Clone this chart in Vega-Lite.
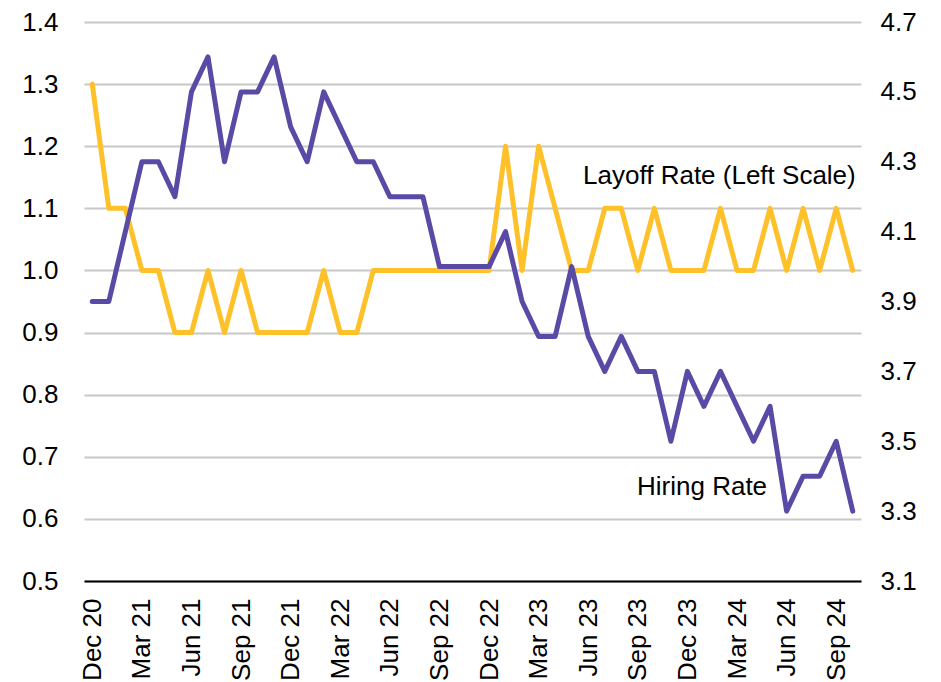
{
  "$schema": "https://vega.github.io/schema/vega-lite/v6.json",
  "width": 777,
  "height": 559,
  "autosize": {"type": "none"},
  "padding": {"left": 84, "top": 22, "right": 80, "bottom": 101},
  "background": "white",
  "config": {
    "view": {"stroke": null},
    "font": "Liberation Sans",
    "axis": {"labelFont": "Liberation Sans", "labelFontSize": 26, "labelColor": "black", "ticks": false, "domain": false, "title": null}
  },
  "data": {"values": [
    {"m": "Dec 20", "layoff": 1.3, "hiring": 3.9},
    {"m": "Jan 21", "layoff": 1.1, "hiring": 3.9},
    {"m": "Feb 21", "layoff": 1.1, "hiring": 4.1},
    {"m": "Mar 21", "layoff": 1.0, "hiring": 4.3},
    {"m": "Apr 21", "layoff": 1.0, "hiring": 4.3},
    {"m": "May 21", "layoff": 0.9, "hiring": 4.2},
    {"m": "Jun 21", "layoff": 0.9, "hiring": 4.5},
    {"m": "Jul 21", "layoff": 1.0, "hiring": 4.6},
    {"m": "Aug 21", "layoff": 0.9, "hiring": 4.3},
    {"m": "Sep 21", "layoff": 1.0, "hiring": 4.5},
    {"m": "Oct 21", "layoff": 0.9, "hiring": 4.5},
    {"m": "Nov 21", "layoff": 0.9, "hiring": 4.6},
    {"m": "Dec 21", "layoff": 0.9, "hiring": 4.4},
    {"m": "Jan 22", "layoff": 0.9, "hiring": 4.3},
    {"m": "Feb 22", "layoff": 1.0, "hiring": 4.5},
    {"m": "Mar 22", "layoff": 0.9, "hiring": 4.4},
    {"m": "Apr 22", "layoff": 0.9, "hiring": 4.3},
    {"m": "May 22", "layoff": 1.0, "hiring": 4.3},
    {"m": "Jun 22", "layoff": 1.0, "hiring": 4.2},
    {"m": "Jul 22", "layoff": 1.0, "hiring": 4.2},
    {"m": "Aug 22", "layoff": 1.0, "hiring": 4.2},
    {"m": "Sep 22", "layoff": 1.0, "hiring": 4.0},
    {"m": "Oct 22", "layoff": 1.0, "hiring": 4.0},
    {"m": "Nov 22", "layoff": 1.0, "hiring": 4.0},
    {"m": "Dec 22", "layoff": 1.0, "hiring": 4.0},
    {"m": "Jan 23", "layoff": 1.2, "hiring": 4.1},
    {"m": "Feb 23", "layoff": 1.0, "hiring": 3.9},
    {"m": "Mar 23", "layoff": 1.2, "hiring": 3.8},
    {"m": "Apr 23", "layoff": 1.1, "hiring": 3.8},
    {"m": "May 23", "layoff": 1.0, "hiring": 4.0},
    {"m": "Jun 23", "layoff": 1.0, "hiring": 3.8},
    {"m": "Jul 23", "layoff": 1.1, "hiring": 3.7},
    {"m": "Aug 23", "layoff": 1.1, "hiring": 3.8},
    {"m": "Sep 23", "layoff": 1.0, "hiring": 3.7},
    {"m": "Oct 23", "layoff": 1.1, "hiring": 3.7},
    {"m": "Nov 23", "layoff": 1.0, "hiring": 3.5},
    {"m": "Dec 23", "layoff": 1.0, "hiring": 3.7},
    {"m": "Jan 24", "layoff": 1.0, "hiring": 3.6},
    {"m": "Feb 24", "layoff": 1.1, "hiring": 3.7},
    {"m": "Mar 24", "layoff": 1.0, "hiring": 3.6},
    {"m": "Apr 24", "layoff": 1.0, "hiring": 3.5},
    {"m": "May 24", "layoff": 1.1, "hiring": 3.6},
    {"m": "Jun 24", "layoff": 1.0, "hiring": 3.3},
    {"m": "Jul 24", "layoff": 1.1, "hiring": 3.4},
    {"m": "Aug 24", "layoff": 1.0, "hiring": 3.4},
    {"m": "Sep 24", "layoff": 1.1, "hiring": 3.5},
    {"m": "Oct 24", "layoff": 1.0, "hiring": 3.3}
  ]},
  "encoding": {
    "x": {
      "field": "m", "type": "ordinal", "sort": null,
      "scale": {"type": "point", "padding": 0.5},
      "axis": {
        "labelAngle": 270, "labelAlign": "right", "labelBaseline": "middle",
        "labelPadding": 17, "labelOverlap": false, "grid": false,
        "domain": true, "domainColor": "black", "domainWidth": 2,
        "labelExpr": "indexof(['Mar','Jun','Sep','Dec'], slice(datum.label,0,3)) >= 0 ? datum.label : ''"
      }
    }
  },
  "layer": [
    {
      "layer": [
        {
          "mark": {"type": "line", "color": "#FFC12A", "strokeWidth": 5, "strokeCap": "round", "strokeJoin": "round"},
          "encoding": {
            "y": {
              "field": "layoff", "type": "quantitative",
              "scale": {"domain": [0.5, 1.4], "nice": false, "zero": false},
              "axis": {"orient": "left", "values": [0.5, 0.6, 0.7, 0.8, 0.9, 1.0, 1.1, 1.2, 1.3, 1.4], "format": ".1f", "grid": true, "gridColor": "#C8C8C8", "gridWidth": 2, "labelPadding": 26}
            }
          }
        },
        {
          "data": {"values": [
            {"m": "Oct 24", "v": 1.139, "t": "Layoff Rate (Left Scale)", "dx": 3},
            {"m": "May 24", "v": 0.638, "t": "Hiring Rate", "dx": -4}
          ]},
          "transform": [{"filter": "datum.dx > 0"}],
          "mark": {"type": "text", "align": "right", "baseline": "alphabetic", "dx": 3, "fontSize": 26, "font": "Liberation Sans", "color": "black"},
          "encoding": {"y": {"field": "v", "type": "quantitative"}, "text": {"field": "t"}}
        },
        {
          "data": {"values": [
            {"m": "Oct 24", "v": 1.139, "t": "Layoff Rate (Left Scale)", "dx": 3},
            {"m": "May 24", "v": 0.638, "t": "Hiring Rate", "dx": -4}
          ]},
          "transform": [{"filter": "datum.dx < 0"}],
          "mark": {"type": "text", "align": "right", "baseline": "alphabetic", "dx": -3, "fontSize": 26, "font": "Liberation Sans", "color": "black"},
          "encoding": {"y": {"field": "v", "type": "quantitative"}, "text": {"field": "t"}}
        }
      ]
    },
    {
      "mark": {"type": "line", "color": "#5A4AA6", "strokeWidth": 5, "strokeCap": "round", "strokeJoin": "round"},
      "encoding": {
        "y": {
          "field": "hiring", "type": "quantitative",
          "scale": {"domain": [3.1, 4.7], "nice": false, "zero": false},
          "axis": {"orient": "right", "values": [3.1, 3.3, 3.5, 3.7, 3.9, 4.1, 4.3, 4.5, 4.7], "format": ".1f", "grid": false, "labelPadding": 19}
        }
      }
    }
  ],
  "resolve": {"scale": {"y": "independent"}}
}
